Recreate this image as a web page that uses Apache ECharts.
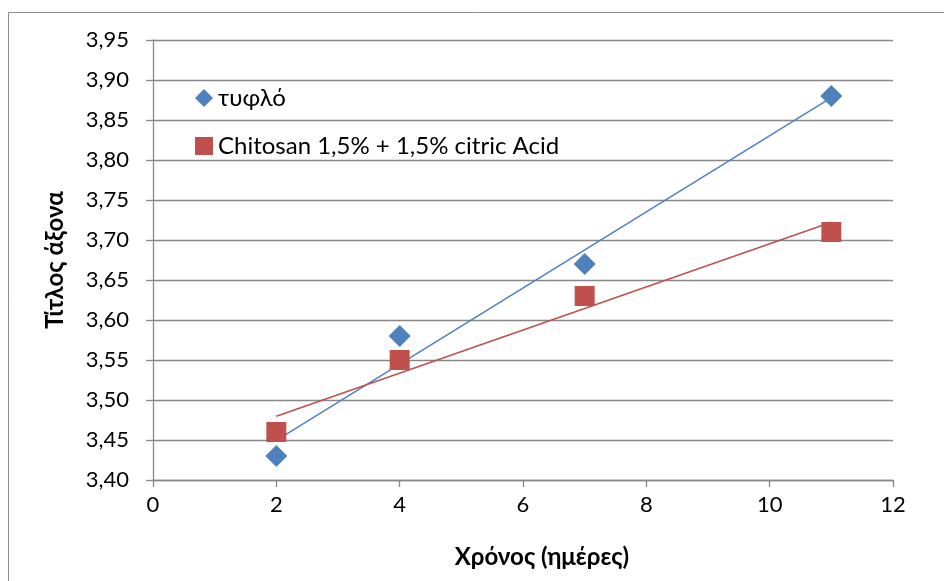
<!DOCTYPE html>
<html>
<head>
<meta charset="utf-8">
<script src="https://cdn.jsdelivr.net/npm/echarts@6/dist/echarts.min.js"></script>
<style>html,body{margin:0;padding:0;background:#fff;}#c{width:944px;height:581px;}</style>
</head>
<body>
<div id="c"></div>
<script>
var days = [2, 4, 7, 11];
var blank = [3.43, 3.58, 3.67, 3.88];
var chitosan = [3.46, 3.55, 3.63, 3.71];
var seriesNames = ['τυφλό', 'Chitosan 1,5% + 1,5% citric Acid'];
var xTitle = 'Χρόνος (ημέρες)';
var yTitle = 'Τίτλος άξονα';

function pairs(xs, ys) { return xs.map(function (x, i) { return [x, ys[i]]; }); }
function trend(xs, ys) {
  var n = xs.length, mx = 0, my = 0;
  for (var i = 0; i < n; i++) { mx += xs[i]; my += ys[i]; }
  mx /= n; my /= n;
  var sxy = 0, sxx = 0;
  for (var j = 0; j < n; j++) { sxy += (xs[j] - mx) * (ys[j] - my); sxx += (xs[j] - mx) * (xs[j] - mx); }
  var b = sxy / sxx, a = my - b * mx;
  var x0 = xs[0], x1 = xs[n - 1];
  return [[x0, a + b * x0], [x1, a + b * x1]];
}

var FONT = 'Lato';
var chart = echarts.init(document.getElementById('c'));
chart.setOption({
  animation: false,
  textStyle: { fontFamily: FONT },
  graphic: [{
    type: 'rect', silent: true,
    shape: { x: 8.5, y: 12.5, width: 1000, height: 1000 },
    style: { fill: 'none', stroke: '#8c8c8c', lineWidth: 1 }
  }],
  grid: { left: 153, right: 51, top: 40, bottom: 101 },
  legend: {
    orient: 'vertical', left: 190, top: 81, itemGap: 24,
    itemWidth: 18, itemHeight: 18,
    textStyle: { fontFamily: FONT, fontSize: 24, lineHeight: 24, color: '#000' },
    data: [
      { name: seriesNames[0], icon: 'diamond' },
      { name: seriesNames[1], icon: 'rect' }
    ]
  },
  xAxis: {
    type: 'value', min: 0, max: 12, interval: 2,
    name: xTitle, nameLocation: 'middle', nameGap: 65,
    nameTextStyle: { fontFamily: FONT, fontSize: 24, fontWeight: 'bold', color: '#000', padding: [0, 0, 0, 38] },
    axisLine: { lineStyle: { color: '#888', width: 1.3 } },
    axisTick: { length: 7, lineStyle: { color: '#888', width: 1.3 } },
    axisLabel: { fontSize: 22, color: '#000', margin: 14 },
    splitLine: { show: false }
  },
  yAxis: {
    type: 'value', min: 3.40, max: 3.95, interval: 0.05,
    name: yTitle, nameLocation: 'middle', nameGap: 86, nameRotate: 90,
    nameTextStyle: { fontFamily: FONT, fontSize: 24, fontWeight: 'bold', color: '#000' },
    axisLine: { show: true, lineStyle: { color: '#888', width: 1.3 } },
    axisTick: { show: true, length: 7, lineStyle: { color: '#888', width: 1.3 } },
    axisLabel: { fontSize: 22, color: '#000', margin: 24,
      formatter: function (v) { return v.toFixed(2).replace('.', ','); } },
    splitLine: { lineStyle: { color: '#888', width: 1.3 } }
  },
  series: [
    { name: seriesNames[0] + ' trend', type: 'line', data: trend(days, blank), symbol: 'none',
      lineStyle: { color: '#4F81BD', width: 1.5 }, z: 1, silent: true },
    { name: seriesNames[1] + ' trend', type: 'line', data: trend(days, chitosan), symbol: 'none',
      lineStyle: { color: '#C0504D', width: 1.5 }, z: 1, silent: true },
    { name: seriesNames[0], type: 'scatter', data: pairs(days, blank), symbol: 'diamond', symbolSize: 22,
      itemStyle: { color: '#4F81BD', opacity: 1 }, z: 3 },
    { name: seriesNames[1], type: 'scatter', data: pairs(days, chitosan), symbol: 'rect', symbolSize: 20,
      itemStyle: { color: '#C0504D', opacity: 1 }, z: 2 }
  ]
});
</script>
</body>
</html>
